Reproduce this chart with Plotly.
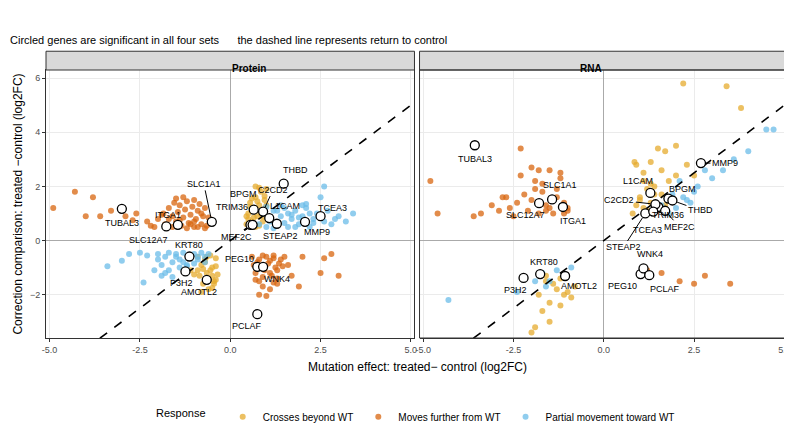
import plotly.graph_objects as go

GOLD = "#E6AB2E"
ORANGE = "#D8650F"
BLUE = "#6BBCE8"

# ---------------- Protein panel background points ----------------
prot_orange_x = [-4.3, -4.0, -3.6, -3.3, -4.9, -3.8, -2.9, -2.6, -2.7, -2.3, -2.1, -2.0, -1.9, -1.8, -1.7, -1.6,
                 -1.55, -1.5, -1.45, -1.4, -1.35, -1.3, -1.25, -1.2, -1.15, -1.1, -1.05, -1.0, -0.95, -0.9, -0.85,
                 -0.8, -0.75, -0.7, -0.65, -0.6, -1.6, -1.3, -1.2, -1.0, -0.9, -1.4, -1.1, -0.8, -1.7, -1.5, -1.0,
                 -0.7, -2.2, -1.85,
                 0.6, 0.65, 0.7, 0.8, 0.85, 0.9, 1.0, 1.05, 1.1, 1.2, 1.25, 1.3, 1.4, 1.45, 1.5, 0.7, 0.9, 1.1, 1.3,
                 0.75, 0.95, 1.15, 1.35, 0.8, 1.2, 1.6, 1.7, 1.9, 2.0, 2.5, 2.6, 3.0, 2.8, 0.9, 1.1, 0.8, 1.0, 1.3, 1.2]
prot_orange_y = [1.8, 0.9, 0.9, 1.1, 1.2, 1.6, 0.9, 1.0, 0.75, 0.7, 0.5, 0.8, 0.95, 0.6, 1.2, 0.9,
                 1.4, 0.7, 1.05, 1.3, 0.55, 0.85, 1.15, 1.45, 0.65, 0.95, 1.25, 0.5, 0.8, 1.1, 1.35,
                 0.6, 0.9, 1.2, 0.55, 0.85, 0.5, 1.6, 0.45, 1.5, 0.5, 0.75, 0.6, 1.0, 0.8, 1.55, 0.7,
                 0.45, 0.55, 1.0,
                 -0.6, -0.9, -1.2, -0.7, -1.0, -1.35, -0.6, -0.85, -1.2, -0.65, -1.0, -1.4, -0.7, -0.95, -0.6,
                 -1.45, -0.55, -0.75, -1.1, -0.8, -1.1, -1.3, -0.85, -1.5, -1.55, -0.9, -1.3, -1.7, -0.6, -1.2,
                 -0.65, -1.3, -0.5, -1.7, -1.8, -2.0, -2.05, -1.6, -0.55]

prot_gold_x = [0.45, 0.5, 0.55, 0.6, 0.65, 0.7, 0.75, 0.8, 0.85, 0.9, 0.95, 1.0, 0.5, 0.6, 0.7, 0.8, 0.9,
               0.55, 0.65, 0.75, 0.85, 0.95, 0.6, 0.8, 1.0, 0.7, 0.9, 0.45, 0.55,
               -0.9, -0.85, -0.8, -0.75, -0.7, -0.65, -0.6, -0.55, -0.5, -0.45, -0.4, -0.35, -0.8, -0.7, -0.6,
               -0.5, -0.4, -0.75, -0.65, -0.55, -0.45, -0.9, -0.5, -0.4, -1.0, -1.1]
prot_gold_y = [0.6, 1.0, 1.4, 0.7, 1.2, 1.6, 0.9, 1.3, 1.8, 1.1, 1.5, 1.9, 0.8, 1.1, 0.5, 0.55, 0.7,
               1.25, 0.85, 1.45, 1.0, 1.65, 1.55, 1.95, 1.3, 2.0, 0.9, 0.9, 0.65,
               -0.6, -1.3, -0.9, -1.6, -0.7, -1.2, -1.8, -0.55, -1.0, -1.5, -0.65, -1.25, -1.9, -0.8, -1.4,
               -1.75, -0.95, -1.05, -0.6, -1.1, -1.6, -1.1, -1.3, -1.45, -1.25, -1.1]

prot_blue_x = [0.8, 0.9, 1.0, 1.1, 1.2, 1.3, 1.4, 1.5, 1.6, 1.7, 1.8, 1.9, 2.0, 2.1, 2.2, 2.3, 2.4, 2.6,
               2.7, 2.8, 3.0, 3.2, 3.4, 1.0, 1.2, 1.4, 1.6, 1.8, 2.0, 2.2, 1.1, 1.5, 1.9, 2.3, 2.5, 2.6, 2.1,
               1.3, 1.7, 2.9,
               -3.4, -3.0, -2.8, -2.5, -2.3, -2.1, -2.0, -1.9, -1.8, -1.7, -1.6, -1.5, -1.4, -1.3, -1.2,
               -1.1, -1.0, -0.9, -0.8, -0.7, -0.6, -1.9, -1.7, -1.5, -1.3, -1.1, -0.9, -0.7, -1.6, -1.2,
               -2.0, -1.4, -1.0, -2.4, -1.8]
prot_blue_y = [0.6, 1.0, 0.5, 0.8, 1.1, 0.6, 0.9, 1.2, 0.5, 0.8, 1.1, 0.6, 0.9, 1.2, 0.5, 0.8, 1.0, 0.7,
               1.1, 0.6, 0.9, 0.7, 1.0, 1.25, 0.45, 1.3, 1.0, 0.5, 1.3, 1.0, 0.7, 0.65, 0.85, 0.65, 1.6, 2.0,
               1.35, 1.1, 0.95, 0.8,
               -0.95, -0.75, -0.5, -0.45, -0.55, -1.1, -0.5, -0.9, -0.6, -0.45, -0.8, -0.5, -0.7, -0.45,
               -0.9, -0.6, -0.5, -0.7, -0.45, -0.6, -0.5, -1.3, -1.1, -0.6, -0.8, -0.55, -0.6, -0.8, -1.35,
               -0.95, -0.7, -1.0, -0.85, -1.55, -1.2]

# ---------------- RNA panel background points ----------------
rna_orange_x = [-4.8, -4.6, -3.6, -3.4, -3.1, -2.9, -2.8, -2.6, -2.5, -2.4, -2.3, -2.2, -2.1, -2.0, -1.9,
                -1.8, -1.7, -1.6, -1.5, -1.4, -1.3, -1.2, -1.1, -1.0, -2.3, -1.9, -1.6, -1.3, -1.1, -1.5,
                -1.2, -2.7, -1.8, -1.4, -1.0, -2.0, 1.6, 2.1, 2.5, 3.5, 1.2, 2.8, -1.7]
rna_orange_y = [2.2, 1.0, 0.9, 1.0, 1.3, 1.1, 1.6, 1.2, 0.9, 1.4, 3.4, 1.7, 1.1, 1.5, 2.2,
                1.0, 1.8, 1.3, 2.6, 1.0, 1.6, 2.3, 1.4, 1.2, 2.4, 1.9, 1.1, 1.9, 1.0, 1.2,
                2.5, 1.6, 2.6, 1.5, 1.1, 2.7, -1.2, -1.5, -1.6, -1.6, -1.1, -1.3, 2.1]
rna_gold_x = [0.8, 0.9, 1.0, 1.1, 1.2, 1.3, 1.4, 1.5, 1.6, 1.7, 1.8, 0.9, 1.1, 1.3, 1.5, 1.0, 1.2, 1.4,
              0.85, 1.6, 2.2, 3.4, 3.8, 1.7, 2.0, 2.3, 2.5, 2.0, 1.1, 1.3,
              -1.9, -1.7, -1.5, -1.3, -1.1, -0.9, -1.6, -1.4, -1.2, -1.0, -1.8, -1.5, -1.2, -0.8, -1.6, -2.0]
rna_gold_y = [1.0, 1.3, 1.6, 1.2, 1.9, 1.4, 2.0, 1.1, 1.7, 1.3, 2.2, 2.8, 2.5, 2.1, 3.4, 1.5, 1.1, 1.7,
              2.9, 2.6, 5.8, 5.7, 4.9, 3.3, 3.5, 2.8, 2.4, 2.4, 2.2, 2.9,
              -3.2, -2.6, -2.3, -1.8, -2.0, -2.1, -1.5, -1.6, -1.4, -1.9, -2.0, -3.0, -2.4, -1.7, -1.3, -3.4]
rna_blue_x = [1.6, 1.8, 2.0, 2.2, 2.4, 2.6, 2.8, 3.0, 3.3, 3.6, 4.0, 4.5, 4.7, 2.1, 2.5, 1.9, 2.3,
              -1.9, -1.7, -1.5, -1.3, -1.1, -0.9, -1.6, -4.3, -2.4]
rna_blue_y = [1.3, 1.0, 1.2, 1.6, 1.4, 2.0, 2.6, 2.3, 2.6, 3.0, 3.3, 4.1, 4.1, 2.2, 1.8, 1.7, 1.5,
              -1.5, -1.2, -1.5, -1.1, -1.3, -1.0, -1.7, -2.2, -1.9]

# ---------------- circled genes ----------------
prot_genes = ["TUBAL3", "SLC12A7", "ITGA1", "SLC1A1", "TRIM36", "BPGM", "C2CD2", "L1CAM", "MEF2C", "STEAP2",
              "MMP9", "TCEA3", "THBD", "KRT80", "P3H2", "AMOTL2", "PEG10", "WNK4", "PCLAF"]
prot_gx = [-3.0, -1.77, -1.45, -0.51, 0.56, 0.65, 0.91, 1.08, 0.62, 1.29, 2.07, 2.5, 1.48, -1.13, -1.24, -0.65,
           0.75, 0.91, 0.75]
prot_gy = [1.17, 0.52, 0.58, 0.69, 0.58, 1.14, 1.07, 0.83, 0.58, 0.62, 0.69, 0.9, 2.1, -0.59, -1.14, -1.45,
           -0.97, -0.97, -2.72]
rna_gx = [-3.57, -1.79, -1.13, -1.43, 1.51, 1.79, 1.43, 1.29, 1.7, 1.15, 2.69, 1.37, 1.9, -1.76, -2.22, -1.07,
          1.02, 1.1, 1.26]
rna_gy = [3.52, 1.38, 1.24, 1.52, 1.24, 1.55, 1.34, 1.76, 1.1, 1.0, 2.86, 1.07, 1.48, -1.24, -1.38, -1.31,
          -1.24, -1.03, -1.28]

# label offsets in pixels (ax, ay)
prot_off = [(0, 14), (-18, 14), (-10, -10), (-8, -38), (-18, -18), (-10, -16), (10, -22), (16, -12),
            (-16, 12), (4, 12), (12, 10), (12, -8), (12, -14), (0, -12), (-4, 12), (-8, 12), (-18, -8),
            (14, 12), (-10, 12)]
rna_off = [(0, 14), (-14, 12), (10, 14), (8, -14), (10, 8), (14, -10), (-36, -4), (-12, -12), (14, 16),
           (-22, 34), (24, 0), (-6, 18), (28, 10), (4, -12), (-8, 12), (14, 10), (-18, 12), (6, -14), (16, 14)]
rna_arrows = {"C2CD2", "STEAP2", "MEF2C", "THBD", "MMP9", "TRIM36"}
prot_arrows = {"SLC1A1", "C2CD2", "MEF2C"}

fig = go.Figure()
mk = dict(size=6, opacity=0.75)
for xs, ys, col, name, ax, show in [
    (prot_gold_x, prot_gold_y, GOLD, "Crosses beyond WT", "x", True),
    (prot_orange_x, prot_orange_y, ORANGE, "Moves further from WT", "x", True),
    (prot_blue_x, prot_blue_y, BLUE, "Partial movement toward WT", "x", True),
    (rna_gold_x, rna_gold_y, GOLD, "Crosses beyond WT", "x2", False),
    (rna_orange_x, rna_orange_y, ORANGE, "Moves further from WT", "x2", False),
    (rna_blue_x, rna_blue_y, BLUE, "Partial movement toward WT", "x2", False),
]:
    fig.add_trace(go.Scatter(x=xs, y=ys, mode="markers", name=name, showlegend=show, xaxis=ax, yaxis="y",
                             legendgroup=name, marker=dict(color=col, **mk)))

for gx, gy, ax in [(prot_gx, prot_gy, "x"), (rna_gx, rna_gy, "x2")]:
    fig.add_trace(go.Scatter(x=[-6, 6], y=[-6, 6], mode="lines", showlegend=False, xaxis=ax, yaxis="y",
                             line=dict(color="black", dash="dash", width=1.6), hoverinfo="skip"))
    fig.add_trace(go.Scatter(x=gx, y=gy, mode="markers", showlegend=False, xaxis=ax, yaxis="y",
                             marker=dict(size=9, color="white", line=dict(color="black", width=1.3))))

ann = []
for genes, gx, gy, offs, ax, arrows in [(prot_genes, prot_gx, prot_gy, prot_off, "x", prot_arrows),
                                        (prot_genes, rna_gx, rna_gy, rna_off, "x2", rna_arrows)]:
    for g, x, y, (dx, dy) in zip(genes, gx, gy, offs):
        ann.append(dict(x=x, y=y, xref=ax, yref="y", text=g, showarrow=True, ax=dx, ay=dy,
                        arrowhead=0, arrowwidth=1 if g in arrows else 0.1,
                        arrowcolor="black" if g in arrows else "rgba(0,0,0,0)", standoff=5,
                        font=dict(size=9, color="black")))

ann += [
    dict(x=0, y=1.0, xref="paper", yref="paper", xanchor="left", yanchor="bottom", xshift=-38, yshift=60,
         text="Sample 5: direction of RNA and protein correction", showarrow=False, font=dict(size=14)),
    dict(x=0, y=1.0, xref="paper", yref="paper", xanchor="left", yanchor="bottom", xshift=-38, yshift=22,
         text="Circled genes are significant in all four sets      the dashed line represents return to control",
         showarrow=False, font=dict(size=11)),
    dict(x=0.2483, y=1.035, xref="paper", yref="paper", text="<b>Protein</b>", showarrow=False, font=dict(size=10)),
    dict(x=0.7517, y=1.035, xref="paper", yref="paper", text="<b>RNA</b>", showarrow=False, font=dict(size=10)),
    dict(x=0.5, y=0, xref="paper", yref="paper", yanchor="top", yshift=-20,
         text="Mutation effect: treated− control (log2FC)", showarrow=False, font=dict(size=12)),
]

shapes = []
for x0, x1 in [(0, 0.4966), (0.5034, 1)]:
    shapes.append(dict(type="rect", xref="paper", yref="paper", x0=x0, x1=x1, y0=1.0, y1=1.07,
                       fillcolor="#D9D9D9", line=dict(color="#333333", width=1)))

axis_common = dict(range=[-5.1, 5.1], tickvals=[-5, -2.5, 0, 2.5, 5],
                   ticktext=["-5.0", "-2.5", "0.0", "2.5", "5.0"], showgrid=True, gridcolor="#EBEBEB",
                   zeroline=True, zerolinecolor="#AAAAAA", zerolinewidth=1, showline=True, linecolor="#333333",
                   mirror=True, ticks="outside", ticklen=3, tickcolor="#333333", tickfont=dict(size=9, color="#4D4D4D"))

fig.update_layout(
    width=792, height=432, paper_bgcolor="white", plot_bgcolor="white",
    font=dict(family="Liberation Sans, Arial, sans-serif", color="black"),
    margin=dict(l=38, r=9, t=62, b=85),
    xaxis=dict(domain=[0, 0.4966], anchor="y", **axis_common),
    xaxis2=dict(domain=[0.5034, 1], anchor="y", **axis_common),
    yaxis=dict(range=[-3.6, 6.3], tickvals=[-2, 0, 2, 4, 6], showgrid=True, gridcolor="#EBEBEB",
               zeroline=True, zerolinecolor="#AAAAAA", zerolinewidth=1, showline=True, linecolor="#333333",
               mirror=True, ticks="outside", ticklen=3, tickcolor="#333333",
               tickfont=dict(size=9, color="#4D4D4D"),
               title=dict(text="Correction comparison: treated −control (log2FC)", font=dict(size=12), standoff=4)),
    legend=dict(orientation="h", x=0.5, xanchor="center", y=-0.24, yanchor="top", font=dict(size=10),
                title=dict(text="Response   ", font=dict(size=11))),
    annotations=ann, shapes=shapes,
)

# axis frame for the second panel
fig.add_shape(type="rect", xref="x2 domain", yref="y domain", x0=0, x1=1, y0=0, y1=1,
              line=dict(color="#333333", width=1))

fig.write_html("out.html")
